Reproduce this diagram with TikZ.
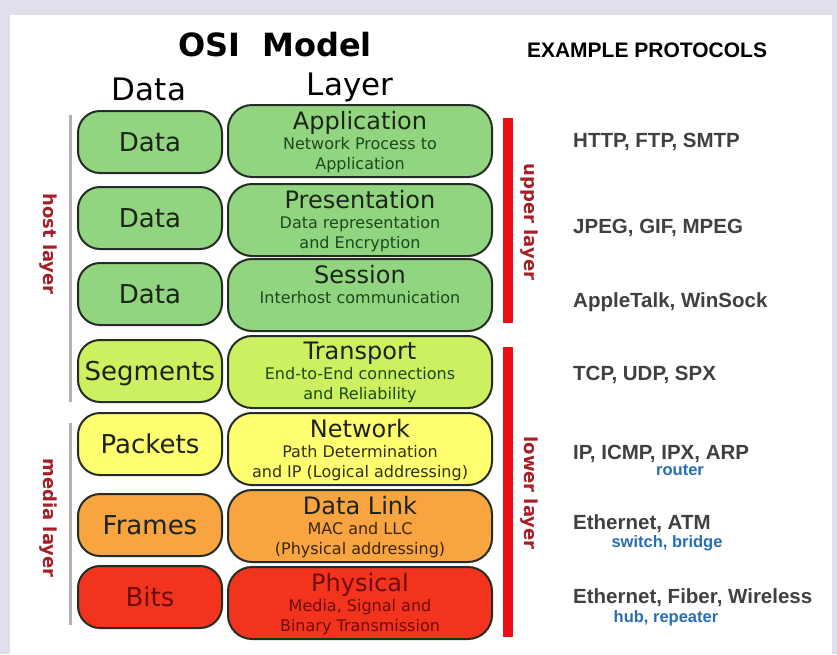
\documentclass[tikz,border=0pt]{standalone}
\usepackage{fontspec}
\setmainfont{DejaVu Sans}
\newfontfamily\protofont{Liberation Sans}
\usetikzlibrary{positioning}

\definecolor{bgpanel}{RGB}{224,224,236}
\definecolor{edgedark}{RGB}{35,45,35}
\definecolor{fillgreen}{RGB}{146,213,128}
\definecolor{fillyelgreen}{RGB}{204,240,96}
\definecolor{fillyellow}{RGB}{255,255,112}
\definecolor{fillorange}{RGB}{248,164,64}
\definecolor{fillred}{RGB}{242,52,30}
\definecolor{sidered}{RGB}{165,30,40}
\definecolor{barred}{RGB}{236,16,20}
\definecolor{protogray}{RGB}{64,64,64}
\definecolor{devblue}{RGB}{40,110,180}
\definecolor{guidegray}{RGB}{178,178,178}
\definecolor{textdark}{RGB}{28,36,24}
\definecolor{textgreen}{RGB}{30,72,30}
\definecolor{textolive}{RGB}{48,50,16}
\definecolor{textbrown}{RGB}{60,38,14}
\definecolor{textred}{RGB}{110,12,12}

\tikzset{
  unitbox/.style={draw=edgedark, line width=2pt, rounded corners=22pt,
    minimum width=144pt, minimum height=62pt, inner sep=0pt,
    text height=19pt, text depth=0pt, text=textdark,
    font=\fontsize{26}{28}\selectfont},
  layerbox/.style={draw=edgedark, line width=2pt, rounded corners=24pt,
    minimum width=264pt, minimum height=72pt, inner sep=0pt},
  layertext/.style={align=center, inner sep=0pt, below=7pt of #1.north,
    font=\fontsize{16}{20}\selectfont},
  sidelabel/.style={rotate=-90, text=sidered,
    font=\bfseries\fontsize{18}{20}\selectfont},
  proto/.style={anchor=base west, inner sep=0pt, text=protogray,
    font=\protofont\bfseries\fontsize{20.5}{22}\selectfont},
  device/.style={anchor=base, inner sep=0pt, text=devblue,
    font=\protofont\bfseries\fontsize{16.5}{18}\selectfont},
}
\newcommand\lyrname[1]{{\color{textdark}\fontsize{24}{26}\selectfont #1}}

\begin{document}
\begin{tikzpicture}[x=1pt, y=-1pt]
  \useasboundingbox (0,0) rectangle (837,654);
  \fill[bgpanel] (0,0) rectangle (837,654);
  \fill[white] (10,15) rectangle (832,654);

  % headings
  \node[font=\bfseries\fontsize{32}{34}\selectfont] (title) at (275,45) {OSI~~Model};
  \node[font=\fontsize{31}{33}\selectfont] (datahead) at (149,89) {Data};
  \node[font=\fontsize{31}{33}\selectfont] (layerhead) at (350,87) {Layer};
  \node[font=\protofont\bfseries\fontsize{21}{23}\selectfont] (protohead) at (647,50) {EXAMPLE PROTOCOLS};

  % data units
  \node[unitbox, fill=fillgreen] (unit1) at (150,142) {Data};
  \node[unitbox, fill=fillgreen] (unit2) at (150,218) {Data};
  \node[unitbox, fill=fillgreen] (unit3) at (150,294) {Data};
  \node[unitbox, fill=fillyelgreen] (unit4) at (150,371) {Segments};
  \node[unitbox, fill=fillyellow] (unit5) at (150,444) {Packets};
  \node[unitbox, fill=fillorange] (unit6) at (150,525) {Frames};
  \node[unitbox, fill=fillred, text=textred] (unit7) at (150,597) {Bits};

  % layers
  \node[layerbox, fill=fillgreen] (application) at (360,141) {};
  \node[layertext=application, text=textgreen] (applicationtxt)
    {\lyrname{Application}\\Network Process to\\Application};
  \node[layerbox, fill=fillgreen] (presentation) at (360,220) {};
  \node[layertext=presentation, text=textgreen] (presentationtxt)
    {\lyrname{Presentation}\\Data representation\\and Encryption};
  \node[layerbox, fill=fillgreen] (session) at (360,295) {};
  \node[layertext=session, text=textgreen] (sessiontxt)
    {\lyrname{Session}\\Interhost communication};
  \node[layerbox, fill=fillyelgreen] (transport) at (360,372) {};
  \node[layertext=transport, text=textgreen] (transporttxt)
    {\lyrname{Transport}\\End-to-End connections\\and Reliability};
  \node[layerbox, fill=fillyellow] (network) at (360,449) {};
  \node[layertext=network, text=textolive] (networktxt)
    {\lyrname{Network}\\Path Determination\\and IP (Logical addressing)};
  \node[layerbox, fill=fillorange] (datalink) at (360,526) {};
  \node[layertext=datalink, text=textbrown] (datalinktxt)
    {\lyrname{Data Link}\\MAC and LLC\\(Physical addressing)};
  \node[layerbox, fill=fillred] (physical) at (360,603) {};
  \node[layertext=physical, text=textred] (physicaltxt)
    {{\fontsize{24}{26}\selectfont Physical}\\Media, Signal and\\Binary Transmission};

  % side groupings
  \draw[guidegray, line width=3pt] (70,115) -- (70,402);
  \draw[guidegray, line width=3pt] (70,423) -- (70,625);
  \node[sidelabel] (hostlbl) at (48,244) {host layer};
  \node[sidelabel] (medialbl) at (48,518) {media layer};
  \fill[barred] (503,118) rectangle (513,323);
  \fill[barred] (503,347) rectangle (513,637);
  \node[sidelabel] (upperlbl) at (529,222) {upper layer};
  \node[sidelabel] (lowerlbl) at (529,493) {lower layer};

  % protocols
  \node[proto] (proto1) at (573,147) {HTTP, FTP, SMTP};
  \node[proto] (proto2) at (573,233) {JPEG, GIF, MPEG};
  \node[proto] (proto3) at (573,307) {AppleTalk, WinSock};
  \node[proto] (proto4) at (573,380) {TCP, UDP, SPX};
  \node[proto] (proto5) at (573,459) {IP, ICMP, IPX, ARP};
  \node[device] (dev5) at (680,475) {router};
  \node[proto] (proto6) at (573,529) {Ethernet, ATM};
  \node[device] (dev6) at (667,547) {switch, bridge};
  \node[proto] (proto7) at (573,603) {Ethernet, Fiber, Wireless};
  \node[device] (dev7) at (666,622) {hub, repeater};
\end{tikzpicture}
\end{document}
